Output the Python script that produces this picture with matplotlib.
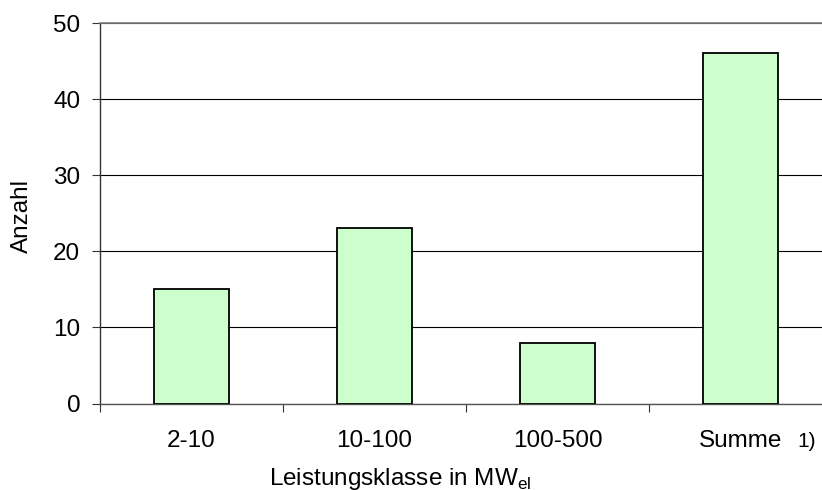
import matplotlib.pyplot as plt
import numpy as np

plt.rcParams['font.family'] = ['Liberation Sans', 'DejaVu Sans']
plt.rcParams['mathtext.fontset'] = 'custom'
plt.rcParams['mathtext.rm'] = 'Liberation Sans'

klassen = ['2-10', '10-100', '100-500', 'Summe']
anzahl = [15, 23, 8, 46]
yticks = [0, 10, 20, 30, 40, 50]

W, H = 822, 490
fs = 17.5
fig = plt.figure(figsize=(W / 100, H / 100), dpi=100)
ax = fig.add_axes([100 / W, (H - 403.5) / H, 732 / W, 380.5 / H])

x = np.arange(len(klassen))
ax.bar(x, anzahl, width=0.41, color='#ccffcc', edgecolor='black', linewidth=1.3, zorder=3)

ax.set_xlim(-0.5, len(klassen) - 0.5)
ax.set_ylim(0, 50)
ax.set_yticks(yticks)
ax.yaxis.grid(True, color='black', linewidth=0.8, zorder=0)
ax.set_axisbelow(True)

# category labels centred, tick marks on the boundaries
ax.set_xticks(x)
ax.set_xticklabels(klassen, fontsize=fs)
ax.set_xticks(np.arange(-0.5, len(klassen)), minor=True)
ax.tick_params(axis='x', which='major', length=0, pad=19)
ax.tick_params(axis='x', which='minor', length=5.5, width=0.8, color='#333333', direction='out')
ax.tick_params(axis='y', length=5.8, width=0.8, color='#333333', labelsize=fs, pad=8.5)

ax.text(3.31, -0.1, '1)', transform=ax.get_xaxis_transform(), fontsize=15,
        ha='left', va='center')

ax.spines['right'].set_visible(False)
ax.spines['top'].set_color('#808080')
ax.spines['top'].set_linewidth(1.2)
ax.spines['left'].set_color('#333333')
ax.spines['left'].set_linewidth(1.0)
ax.spines['bottom'].set_color('#555555')
ax.spines['bottom'].set_linewidth(1.0)

fig.text(22 / W, 1 - 216 / H, 'Anzahl', rotation=90, fontsize=fs, ha='center', va='center')
fig.text(400 / W, 1 - 479 / H, 'Leistungsklasse in MW$_{\\mathrm{el}}$', fontsize=fs,
         ha='center', va='center')

fig.savefig('out.png', dpi=100)
